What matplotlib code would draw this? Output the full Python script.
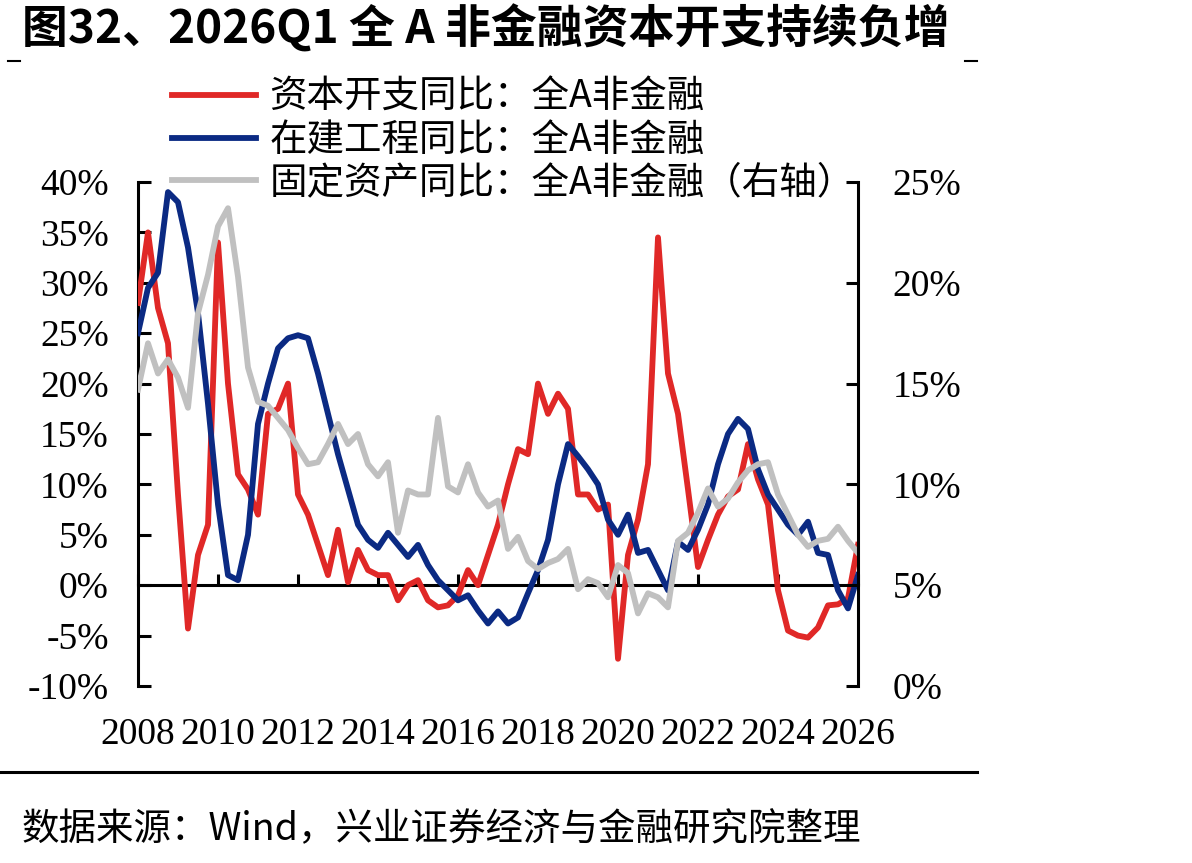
import matplotlib
matplotlib.use("Agg")
import matplotlib.pyplot as plt
from matplotlib.lines import Line2D
from matplotlib.ticker import FuncFormatter
import numpy as np

# quarterly points, 2008Q1 .. 2026Q1
start_year = 2008
capex_yoy = [28, 35, 27.5, 24, 9, -4.3, 3, 6, 34, 20,
             11, 9.5, 7, 17, 17.5, 20, 9, 7, 4, 1,
             5.5, 0.3, 3.5, 1.5, 1, 1, -1.5, 0, 0.5, -1.5,
             -2.2, -2, -1, 1.5, 0, 3, 6, 10, 13.5, 13,
             20, 17, 19, 17.5, 9, 9, 7.5, 8, -7.3, 3,
             6.5, 12, 34.5, 21, 17, 9.5, 1.8, 4.5, 7, 8.8,
             9.5, 14, 10.5, 8, -0.5, -4.5, -5, -5.2, -4.2, -2,
             -1.9, -1.3, 4]
cip_yoy = [25, 29.5, 31, 39, 38, 33.5, 27, 18, 8, 1,
           0.5, 5, 16, 20, 23.5, 24.5, 24.8, 24.5, 21, 17,
           13, 9.5, 6, 4.5, 3.7, 5.2, 4, 2.8, 4, 2,
           0.5, -0.5, -1.5, -1, -2.5, -3.8, -2.6, -3.8, -3.2, -0.8,
           1.5, 4.5, 10, 14, 12.8, 11.5, 10, 6.5, 5, 7,
           3.2, 3.5, 1.5, -0.5, 4.3, 3.5, 5.5, 8, 12, 15,
           16.5, 15.5, 11.5, 9, 7.5, 6, 5, 6.3, 3.2, 3,
           -0.5, -2.3, 1]
fixed_asset_yoy = [14.7, 17, 15.5, 16.2, 15.3, 13.8, 18.5, 20.4, 22.8, 23.7,
                   20.3, 15.8, 14.1, 13.9, 13.3, 12.7, 11.8, 11, 11.1, 12,
                   13, 12, 12.5, 11, 10.4, 11.1, 7.6, 9.7, 9.5, 9.5,
                   13.3, 9.9, 9.6, 11, 9.6, 8.9, 9.2, 6.8, 7.4, 6.2,
                   5.8, 6.1, 6.3, 6.8, 4.8, 5.3, 5.1, 4.4, 6, 5.6,
                   3.6, 4.6, 4.4, 3.9, 7.2, 7.6, 8.6, 9.8, 8.9, 9.3,
                   10.1, 10.7, 11, 11.1, 9.5, 8.5, 7.5, 6.9, 7.2, 7.3,
                   7.9, 7.2, 6.6]
labels = ["资本开支同比：全A非金融", "在建工程同比：全A非金融", "固定资产同比：全A非金融（右轴）"]
year_ticks = list(range(2008, 2027, 2))

RED = "#E02827"
BLUE = "#0B2A83"
GREY = "#C0C0C0"
CJK = ["Noto Sans CJK SC", "DejaVu Sans"]
SERIF = "Liberation Serif"

x = start_year + np.arange(len(capex_yoy)) * 0.25

fig = plt.figure(figsize=(11.92, 8.63), dpi=100)
ax = fig.add_axes([138 / 1192, 177 / 863, 720 / 1192, 504 / 863])
ax2 = ax.twinx()

l1, = ax.plot(x, capex_yoy, color=RED, lw=4.2, solid_joinstyle="round", zorder=3)
l2, = ax.plot(x, cip_yoy, color=BLUE, lw=4.2, solid_joinstyle="round", zorder=4)
l3, = ax2.plot(x, fixed_asset_yoy, color=GREY, lw=4.2, solid_joinstyle="round")

ax.set_xlim(2008, 2026)
ax.set_ylim(-10, 40)
ax.set_yticks(range(-10, 41, 5))
ax2.set_ylim(0, 25)
ax2.set_yticks(range(0, 26, 5))
pct = FuncFormatter(lambda v, _: f"{v:.0f}%")
ax.yaxis.set_major_formatter(pct)
ax2.yaxis.set_major_formatter(pct)

# x axis sits on the zero line, year labels go under the plot
ax.spines["bottom"].set_position(("data", 0))
ax.set_xticks(year_ticks)
ax.tick_params(axis="x", direction="in", length=8, width=2.2, labelbottom=False)
for yr in year_ticks:
    ax.text(yr, -0.097, str(yr), transform=ax.get_xaxis_transform(),
            ha="center", va="center", fontsize=27, family=SERIF)

ax.tick_params(axis="y", direction="in", length=9, width=2.2, pad=21,
               labelsize=27, labelfontfamily=SERIF)
ax2.tick_params(axis="y", direction="in", length=9, width=2.2, pad=25,
                labelsize=27, labelfontfamily=SERIF)

for s in ["top", "right"]:
    ax.spines[s].set_visible(False)
for s in ["top", "left", "bottom"]:
    ax2.spines[s].set_visible(False)
ax.spines["left"].set_linewidth(2.2)
ax.spines["bottom"].set_linewidth(2.2)
ax2.spines["right"].set_linewidth(2.2)

leg = ax2.legend([l1, l2, l3], labels, loc="upper left",
                 bbox_to_anchor=(172 / 1192, 1 - 78 / 863), bbox_transform=fig.transFigure,
                 frameon=False, borderpad=0, borderaxespad=0, handlelength=2.25,
                 handletextpad=0.35, labelspacing=0.1, prop={"family": CJK, "size": 27})

fig.text(22 / 1192, 1 - 29 / 863, "图32、2026Q1 全 A 非金融资本开支持续负增",
         fontsize=33, fontweight="bold", family=CJK, ha="left", va="center")
fig.add_artist(Line2D([8 / 1192, 20 / 1192], [1 - 61 / 863] * 2, color="black", lw=1.5))
fig.add_artist(Line2D([965 / 1192, 977 / 1192], [1 - 61 / 863] * 2, color="black", lw=1.5))
fig.add_artist(Line2D([0, 977 / 1192], [1 - 772 / 863] * 2, color="black", lw=2.2))
fig.text(22 / 1192, 1 - 830 / 863, "数据来源：Wind，兴业证券经济与金融研究院整理",
         fontsize=27, family=CJK, ha="left", va="center")

fig.savefig("out.png", dpi=100)
